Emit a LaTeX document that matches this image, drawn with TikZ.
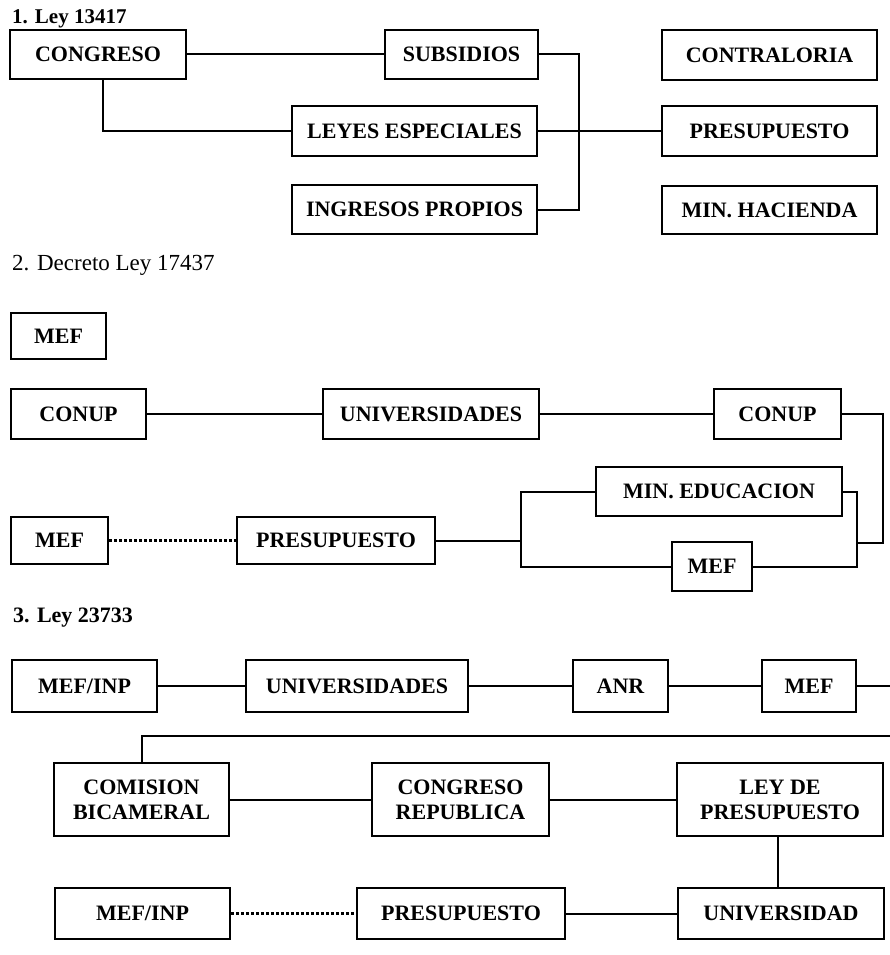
\documentclass[tikz,border=0pt]{standalone}
\usepackage{fontspec}
\setmainfont{Liberation Serif}
\begin{document}
\begin{tikzpicture}[x=1pt,y=-1pt,
  box/.style={draw,line width=2.2pt,inner sep=0pt,align=center,font=\fontsize{22}{25}\selectfont\bfseries},
  ttl/.style={anchor=base west,inner sep=0pt},
  conn/.style={line width=2pt},
  dotl/.style={line width=2.6pt,dash pattern=on 3pt off 2pt}]
\useasboundingbox (0,0) rectangle (890,955);
% Section 1
\node[ttl,font=\fontsize{21}{24}\selectfont\bfseries] (t1) at (12,24) {1. Ley 13417};
\node[box,minimum width=176,minimum height=49] (congreso) at (98,54.5) {CONGRESO};
\node[box,minimum width=153,minimum height=49] (subsidios) at (461.5,54.5) {SUBSIDIOS};
\node[box,minimum width=245,minimum height=50] (leyes) at (414.5,131) {LEYES ESPECIALES};
\node[box,minimum width=245,minimum height=49] (ingresos) at (414.5,209.5) {INGRESOS PROPIOS};
\node[box,minimum width=215,minimum height=50] (contraloria) at (769.5,55) {CONTRALORIA};
\node[box,minimum width=215,minimum height=50] (presup1) at (769.5,131) {PRESUPUESTO};
\node[box,minimum width=215,minimum height=48] (minhac) at (769.5,210) {MIN. HACIENDA};
\draw[conn] (congreso.east) -- (subsidios.west);
\draw[conn] ([xshift=5]congreso.south) |- (leyes.west);
\draw[conn] (subsidios.east) -- ++(40,0) |- (ingresos.east);
\draw[conn] (leyes.east) -- (presup1.west);
% Section 2
\node[ttl,font=\fontsize{23}{26}\selectfont] (t2) at (12,270) {2. Decreto Ley 17437};
\node[box,minimum width=95,minimum height=46] (mef1) at (58.5,336) {MEF};
\node[box,minimum width=135,minimum height=50] (conup1) at (78.5,414) {CONUP};
\node[box,minimum width=216,minimum height=50] (univ2) at (431,414) {UNIVERSIDADES};
\node[box,minimum width=127,minimum height=50] (conup2) at (777.5,414) {CONUP};
\node[box,minimum width=246,minimum height=49] (mined) at (719,491.5) {MIN. EDUCACION};
\node[box,minimum width=80,minimum height=49] (mef2) at (712,566.5) {MEF};
\node[box,minimum width=97,minimum height=47] (mef3) at (59.5,540.5) {MEF};
\node[box,minimum width=198,minimum height=47] (pres2) at (336,540.5) {PRESUPUESTO};
\coordinate (rb) at (857,543);
\coordinate (lb) at (521,540.5);
\draw[conn] (conup1.east) -- (univ2.west);
\draw[conn] (univ2.east) -- (conup2.west);
\draw[conn] (conup2.east) -| ([xshift=26]rb) -- (rb);
\draw[conn] (mined.east) -| (rb) |- (mef2.east);
\draw[conn] (pres2.east) -- (lb);
\draw[conn] (mined.west) -| (lb) |- (mef2.west);
\draw[dotl] (mef3.east) -- (pres2.west);
% Section 3
\node[ttl,font=\fontsize{22}{25}\selectfont\bfseries] (t3) at (13,622) {3. Ley 23733};
\node[box,minimum width=145,minimum height=52] (mefinp1) at (84.5,686) {MEF/INP};
\node[box,minimum width=222,minimum height=52] (univ3) at (357,686) {UNIVERSIDADES};
\node[box,minimum width=95,minimum height=52] (anr) at (620.5,686) {ANR};
\node[box,minimum width=94,minimum height=52] (mef4) at (809,686) {MEF};
\node[box,minimum width=175,minimum height=73] (comision) at (141.5,799.5) {COMISION\\BICAMERAL};
\node[box,minimum width=177,minimum height=73] (congrep) at (460.5,799.5) {CONGRESO\\REPUBLICA};
\node[box,minimum width=206,minimum height=73] (leyde) at (780,799.5) {LEY DE\\PRESUPUESTO};
\node[box,minimum width=175,minimum height=51] (mefinp2) at (142.5,913.5) {MEF/INP};
\node[box,minimum width=208,minimum height=51] (pres3) at (461,913.5) {PRESUPUESTO};
\node[box,minimum width=206,minimum height=51] (universidad) at (781,913.5) {UNIVERSIDAD};
\coordinate (e1) at (890,686);
\coordinate (e2) at (890,736);
\draw[conn] (mefinp1.east) -- (univ3.west);
\draw[conn] (univ3.east) -- (anr.west);
\draw[conn] (anr.east) -- (mef4.west);
\draw[conn] (mef4.east) -- (e1);
\draw[conn] (e2) -| (comision.north);
\draw[conn] (comision.east) -- (congrep.west);
\draw[conn] (congrep.east) -- (leyde.west);
\draw[conn] ([xshift=-2]leyde.south) -- ([xshift=-2]leyde.south |- universidad.north);
\draw[dotl] (mefinp2.east) -- (pres3.west);
\draw[conn] (pres3.east) -- (universidad.west);
\end{tikzpicture}
\end{document}
